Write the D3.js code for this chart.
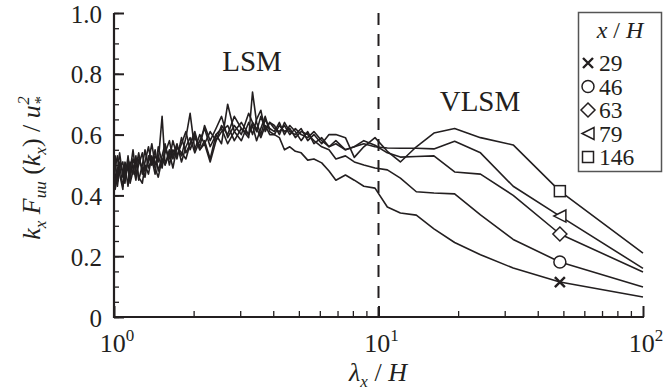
<!DOCTYPE html>
<html><head><meta charset="utf-8">
<script src="https://cdn.jsdelivr.net/npm/d3@7"></script>
<style>body{margin:0;background:#fff}svg{display:block}text{font-family:"Liberation Serif","Times New Roman",Tinos,serif;fill:#231f20}</style>
</head><body>
<svg id="c" width="664" height="391"></svg>
<script>
const lambda = [1.00,1.01,1.03,1.05,1.08,1.10,1.13,1.15,1.18,1.21,1.24,1.28,1.31,1.35,1.39,1.43,1.47,1.52,1.56,1.62,1.67,1.73,1.80,1.87,1.94,2.02,2.11,2.20,2.31,2.43,2.55,2.69,2.85,3.03,3.23,3.34,3.46,3.59,3.73,3.88,4.04,4.22,4.41,4.62,4.85,5.10,5.40,5.70,6.10,6.50,6.90,7.50,8.10,8.80,9.70,10.8,12.1,13.9,16.2,19.4,24.3,32.3,48.5,100];
const s146 = [0.46,0.53,0.43,0.49,0.51,0.45,0.52,0.48,0.55,0.47,0.50,0.54,0.48,0.51,0.57,0.50,0.53,0.49,0.56,0.52,0.58,0.53,0.57,0.61,0.55,0.59,0.56,0.63,0.58,0.62,0.66,0.59,0.63,0.60,0.67,0.64,0.61,0.66,0.62,0.64,
  0.63,0.60,0.64,0.61,0.60,0.62,0.58,0.60,0.57,0.60,0.60,0.59,0.525,0.56,0.59,
  0.545,0.51,0.56,0.605,0.62,0.59,0.566,0.414,0.21];
const s79 = [0.52,0.44,0.48,0.54,0.46,0.50,0.43,0.51,0.47,0.53,0.45,0.50,0.55,0.49,0.52,0.47,0.56,0.51,0.54,0.58,0.52,0.56,0.53,0.59,0.67,0.55,0.60,0.57,0.61,0.58,0.63,0.60,0.66,0.62,0.59,0.74,0.64,0.60,0.65,0.62,
  0.61,0.64,0.60,0.63,0.61,0.58,0.61,0.57,0.59,0.56,0.58,0.55,0.56,0.57,0.56,
  0.556,0.555,0.555,0.553,0.578,0.54,0.43,0.332,0.16];
const s63 = [0.44,0.49,0.53,0.47,0.42,0.51,0.48,0.45,0.52,0.49,0.54,0.47,0.51,0.56,0.50,0.53,0.51,0.66,0.50,0.55,0.53,0.57,0.51,0.56,0.59,0.54,0.58,0.62,0.56,0.60,0.57,0.70,0.61,0.58,0.64,0.60,0.65,0.68,0.61,0.64,
  0.62,0.61,0.63,0.60,0.62,0.60,0.59,0.61,0.58,0.56,0.57,0.55,0.56,0.58,0.565,
  0.54,0.526,0.528,0.53,0.477,0.47,0.40,0.273,0.148];
const s46 = [0.49,0.42,0.46,0.51,0.48,0.44,0.53,0.47,0.50,0.45,0.52,0.49,0.46,0.53,0.50,0.55,0.48,0.53,0.57,0.50,0.55,0.52,0.59,0.54,0.57,0.61,0.55,0.58,0.52,0.60,0.62,0.57,0.61,0.64,0.60,0.63,0.58,0.62,0.66,0.61,
  0.60,0.63,0.61,0.62,0.59,0.61,0.60,0.58,0.56,0.55,0.52,0.53,0.51,0.50,0.49,
  0.484,0.457,0.412,0.408,0.405,0.336,0.255,0.181,0.099];
const s29 = [0.40,0.47,0.45,0.50,0.43,0.47,0.50,0.44,0.48,0.52,0.46,0.44,0.50,0.47,0.53,0.49,0.46,0.52,0.50,0.54,0.49,0.56,0.54,0.52,0.57,0.60,0.55,0.57,0.51,0.58,0.61,0.63,0.58,0.62,0.60,0.64,0.62,0.59,0.63,0.60,
  0.60,0.59,0.55,0.56,0.545,0.54,0.516,0.52,0.507,0.48,0.45,0.467,0.45,0.43,0.424,
  0.362,0.342,0.335,0.29,0.245,0.205,0.161,0.115,0.066];
const seriesNames = ["29","46","63","79","146"];
const seriesSymbols = ["cross","circle","diamond","triangle","square"];
const seriesValues = [s29,s46,s63,s79,s146];
const markerLambda = 48.5;
const yTicks = [0,0.2,0.4,0.6,0.8,1.0];
const yTickLabels = ["0","0.2","0.4","0.6","0.8","1.0"];
const xTicks = [1,10,100];
const xTickExps = ["0","1","2"];
const separatorLambda = 10;

const svg = d3.select("#c");
const ink = "#231f20";
const FS = 26, SUB = 17;
const x = d3.scaleLog().domain([1,100]).range([114,643]);
const y = d3.scaleLinear().domain([0,1]).range([317,13]);

// axes
const yMinor = d3.range(0,1.0001,0.05).map(v=>+v.toFixed(2));
svg.append("g").attr("transform","translate(114,0)")
  .call(d3.axisLeft(y).tickValues(yMinor).tickSize(-5).tickFormat(""))
  .call(g=>{g.select(".domain").remove();g.selectAll("line").attr("stroke",ink).attr("stroke-width",1.3);});
svg.append("g").attr("transform","translate(114,0)")
  .call(d3.axisLeft(y).tickValues(yTicks).tickSize(-10).tickPadding(12).tickFormat((d,i)=>yTickLabels[i]))
  .call(g=>{g.select(".domain").remove();g.selectAll("line").attr("stroke",ink).attr("stroke-width",2);
    g.selectAll("text").attr("font-size",25).attr("fill",ink).attr("dy","0.36em");});
const xMinor = [];
[1,10].forEach(b=>{for(let m=2;m<=9;m++) xMinor.push(b*m);});
svg.append("g").attr("transform","translate(0,317)")
  .call(d3.axisBottom(x).tickValues(xMinor).tickSize(-6).tickFormat(""))
  .call(g=>{g.select(".domain").remove();g.selectAll("line").attr("stroke",ink).attr("stroke-width",1.3);});
svg.append("g").attr("transform","translate(0,317)")
  .call(d3.axisBottom(x).tickValues(xTicks).tickSize(-11).tickFormat(""))
  .call(g=>{g.select(".domain").remove();g.selectAll("line").attr("stroke",ink).attr("stroke-width",2);});
svg.append("line").attr("x1",114).attr("x2",114).attr("y1",y(1)).attr("y2",318).attr("stroke",ink).attr("stroke-width",2.2);
svg.append("line").attr("x1",113).attr("x2",x(100)+1).attr("y1",317).attr("y2",317).attr("stroke",ink).attr("stroke-width",2.2);

xTicks.forEach((t,i)=>{
  const tx = svg.append("text").attr("x",x(t)+3).attr("y",352).attr("text-anchor","middle").attr("font-size",FS);
  tx.append("tspan").text("10");
  tx.append("tspan").attr("dy",-11).attr("font-size",SUB).text(xTickExps[i]);
});

// dashed separator
svg.append("line").attr("x1",x(separatorLambda)).attr("x2",x(separatorLambda))
  .attr("y1",13).attr("y2",316).attr("stroke",ink).attr("stroke-width",2).attr("stroke-dasharray","12,9");

// lines
const line = d3.line().x((d,i)=>x(lambda[i])).y(d=>y(d));
seriesValues.forEach(vals=>{
  svg.append("path").attr("d",line(vals)).attr("fill","none").attr("stroke",ink).attr("stroke-width",1.6).attr("stroke-linejoin","round");
});

// markers
function drawSym(g,type,cx,cy){
  const s = 6;
  if(type==="cross"){
    g.append("path").attr("d",`M${cx-s+1},${cy-s+1}L${cx+s-1},${cy+s-1}M${cx-s+1},${cy+s-1}L${cx+s-1},${cy-s+1}`).attr("stroke",ink).attr("stroke-width",2.4).attr("fill","none");
  } else if(type==="circle"){
    g.append("circle").attr("cx",cx).attr("cy",cy).attr("r",s).attr("fill","#fff").attr("stroke",ink).attr("stroke-width",1.5);
  } else if(type==="diamond"){
    g.append("path").attr("d",`M${cx},${cy-s-1}L${cx+s+1},${cy}L${cx},${cy+s+1}L${cx-s-1},${cy}Z`).attr("fill","#fff").attr("stroke",ink).attr("stroke-width",1.5);
  } else if(type==="triangle"){
    g.append("path").attr("d",`M${cx+s},${cy-s}L${cx+s},${cy+s}L${cx-s},${cy}Z`).attr("fill","#fff").attr("stroke",ink).attr("stroke-width",1.5);
  } else {
    g.append("rect").attr("x",cx-s+0.5).attr("y",cy-s+0.5).attr("width",2*s-1).attr("height",2*s-1).attr("fill","#fff").attr("stroke",ink).attr("stroke-width",1.5);
  }
}
const mi = lambda.indexOf(markerLambda);
const mg = svg.append("g");
seriesValues.forEach((vals,k)=>drawSym(mg,seriesSymbols[k],x(markerLambda),y(vals[mi])));

// annotations
svg.append("text").attr("x",252).attr("y",71).attr("text-anchor","middle").attr("font-size",29).text("LSM");
svg.append("text").attr("x",480).attr("y",111).attr("text-anchor","middle").attr("font-size",29).text("VLSM");

// legend
svg.append("rect").attr("x",578.5).attr("y",12.5).attr("width",83).attr("height",159).attr("fill","#fff").attr("stroke","#555").attr("stroke-width",1.5);
const lt = svg.append("text").attr("x",620).attr("y",38).attr("text-anchor","middle").attr("font-size",24).attr("font-style","italic");
lt.append("tspan").text("x");
lt.append("tspan").attr("font-style","normal").text(" / ");
lt.append("tspan").text("H");
const lg = svg.append("g");
seriesNames.forEach((n,k)=>{
  const cy = 63 + k*23.5;
  drawSym(lg,seriesSymbols[k],588,cy);
  lg.append("text").attr("x",599).attr("y",cy+8).attr("font-size",23.5).text(n);
});

// axis titles
const xt = svg.append("text").attr("x",378).attr("y",381).attr("text-anchor","middle").attr("font-size",FS).attr("font-style","italic");
xt.append("tspan").text("λ");
xt.append("tspan").attr("dy",6).attr("font-size",SUB).text("x");
xt.append("tspan").attr("dy",-6).attr("font-style","normal").text(" / ");
xt.append("tspan").text("H");

const yt = svg.append("text").attr("transform","translate(40,168) rotate(-90)").attr("text-anchor","middle").attr("font-size",FS).attr("font-style","italic");
yt.append("tspan").text("k");
yt.append("tspan").attr("dy",6).attr("font-size",SUB).text("x");
yt.append("tspan").attr("dy",-6).text(" F");
yt.append("tspan").attr("dy",6).attr("font-size",SUB).text("uu");
yt.append("tspan").attr("dy",-6).attr("font-style","normal").text(" (");
yt.append("tspan").text("k");
yt.append("tspan").attr("dy",6).attr("font-size",SUB).text("x");
yt.append("tspan").attr("dy",-6).attr("font-style","normal").text(") / ");
yt.append("tspan").text("u");
yt.append("tspan").attr("dy",6).attr("font-size",SUB).text("*");
yt.append("tspan").attr("dx",-8).attr("dy",-17).attr("font-size",SUB).text("2");
</script>
</body></html>
